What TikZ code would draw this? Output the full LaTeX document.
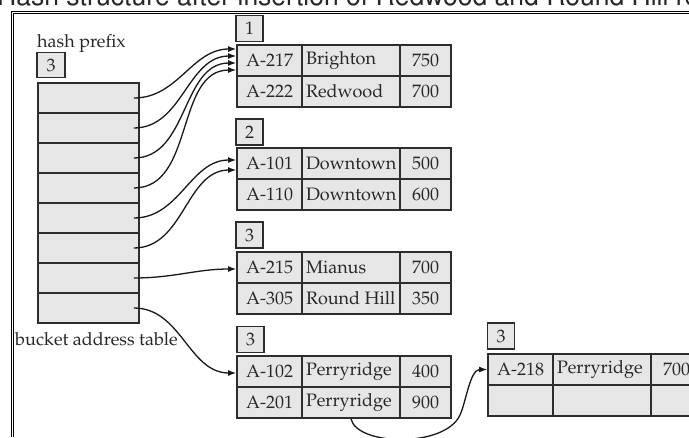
\documentclass[tikz,border=0pt]{standalone}
\usepackage[T1]{fontenc}
\renewcommand{\rmdefault}{ppl}
\renewcommand{\sfdefault}{phv}
\usepackage{tikz}
\usetikzlibrary{arrows.meta,positioning,calc}
\definecolor{cellgray}{RGB}{230,230,230}
\definecolor{rulegray}{RGB}{45,45,45}
\definecolor{inkgray}{RGB}{40,40,40}

\begin{document}
\begin{tikzpicture}[
  x=1pt, y=-1pt,
  cell/.style={draw=rulegray, fill=cellgray, line width=1.7pt, minimum height=31pt,
    inner sep=0pt, font=\fontsize{18}{20}\selectfont, text=inkgray},
  tagbox/.style={draw=rulegray, fill=cellgray, line width=1.7pt, minimum width=27pt,
    minimum height=26pt, inner sep=0pt, font=\fontsize{18}{20}\selectfont, text=inkgray},
  caption/.style={anchor=base west, inner sep=0pt, font=\fontsize{18}{20}\selectfont, text=inkgray},
  ptr/.style={-{Latex[length=8pt,width=6pt]}, line width=1.3pt, black!90}
]
  \useasboundingbox (0,0) rectangle (689,437);

  % Title and frame
  \node[anchor=base west, inner sep=0pt, font=\sffamily\fontsize{26.5}{30}\selectfont,
    text=black!85] (title) at (-3,5.5)
    {Hash structure after insertion of Redwood and Round Hill records};
  \draw[double=white, double distance=1pt, line width=1pt]
    (12.5,437) -- (12.5,12.5) -- (689,12.5);

  % Bucket address table
  \node[caption] (hp) at (37,47) {hash prefix};
  \node[tagbox, minimum width=28pt, minimum height=25pt] (gd) at (51,65) {3};
  \foreach \i in {0,...,7} {
    \node[cell, minimum width=101pt, minimum height=30pt] (d\i) at (88.5,98+30*\i) {};
  }
  \node[caption] (bat) at (15,345) {bucket address table};

  % Buckets
  \foreach \n/\x/\y/\a/\b/\c in {
      b1r1/237/60.5/A-217/Brighton/750,
      b1r2/237/91.5/A-222/Redwood/700,
      b2r1/237/163.5/A-101/Downtown/500,
      b2r2/237/194.5/A-110/Downtown/600,
      b3r1/237/267.5/A-215/Mianus/700,
      b3r2/237/298.5/A-305/Round Hill/350,
      b4r1/237/371.5/A-102/Perryridge/400,
      b4r2/237/402.5/A-201/Perryridge/900,
      b5r1/488/369.5/A-218/Perryridge/700,
      b5r2/488/400.5/{}/{}/{}} {
    \node[cell, minimum width=65pt] (\n-a) at (\x+32.5,\y) {\a};
    \node[cell, minimum width=98pt] (\n-b) at (\x+114,\y) {\makebox[90pt][l]{\b}};
    \node[cell, minimum width=51pt] (\n-c) at (\x+188.5,\y) {\c};
  }

  % Local depths
  \node[tagbox] (t1) at (249.5,28.5) {1};
  \node[tagbox] (t2) at (249.5,132) {2};
  \node[tagbox] (t3) at (249.5,235) {3};
  \node[tagbox] (t4) at (250.5,339.5) {3};
  \node[tagbox] (t5) at (501,336) {3};

  % Pointers
  \draw[ptr] ([xshift=-6pt]d0.east) to[out=0,in=180] ($(b1r1-a.west)+(0,-11.5)$);
  \draw[ptr] ([xshift=-6pt]d1.east) to[out=0,in=180] ($(b1r1-a.west)+(0,-4.5)$);
  \draw[ptr] ([xshift=-6pt]d2.east) to[out=0,in=180] ($(b1r1-a.west)+(0,2.5)$);
  \draw[ptr] ([xshift=-6pt]d3.east) to[out=0,in=180] ($(b1r1-a.west)+(0,9.5)$);
  \draw[ptr] ([xshift=-6pt]d4.east) to[out=0,in=180] ($(b2r1-a.west)+(0,-3.5)$);
  \draw[ptr] ([xshift=-6pt]d5.east) to[out=0,in=180] ($(b2r1-a.west)+(0,6.5)$);
  \draw[ptr] ([xshift=-6pt]d6.east) to[out=0,in=180] ($(b3r1-a.west)+(0,1.5)$);
  \draw[ptr] ([xshift=-6pt]d7.east) to[out=0,in=180] ($(b4r1-a.west)+(0,1.5)$);

  % Overflow chain
  \draw[ptr] (b4r2-b.south) .. controls (357,446) and (445,448) .. (460,415)
    .. controls (466,402) and (470,369.5) .. (b5r1-a.west);
\end{tikzpicture}
\end{document}
